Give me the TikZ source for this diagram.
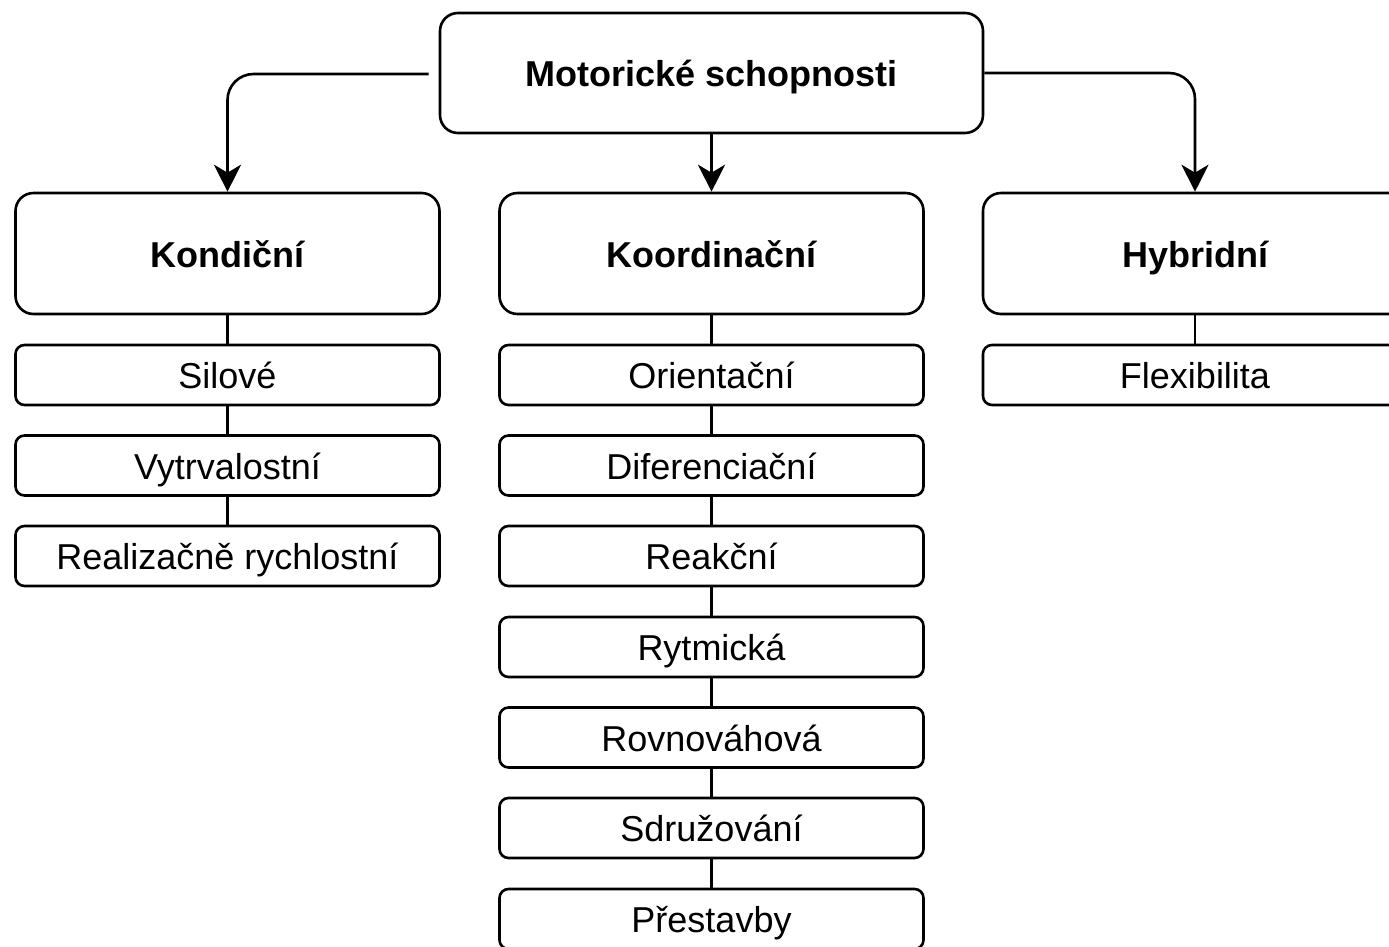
\documentclass[tikz,border=0pt]{standalone}
\usepackage{fontspec}
\setmainfont{Liberation Sans}
\usetikzlibrary{arrows.meta}
\begin{document}
\begin{tikzpicture}[x=1pt,y=-1pt,
  box/.style={draw=black,line width=2.6pt,rounded corners=18pt,inner sep=0pt,align=center,
    minimum height=121pt,text height=30pt,text depth=3pt,font=\fontsize{36}{42}\selectfont\bfseries},
  item/.style={draw=black,line width=2.6pt,rounded corners=9pt,inner sep=0pt,align=center,
    minimum width=424pt,minimum height=60pt,text height=30pt,text depth=3pt,font=\fontsize{36}{42}\selectfont},
  arr/.style={line width=2.6pt,rounded corners=26pt,-{Stealth[length=27pt,width=27pt,inset=8pt]}},
  link/.style={line width=2.6pt}]
\useasboundingbox (0,0) rectangle (1389,946);
\clip (0,0) rectangle (1389,946);
\node[box,minimum width=543pt,minimum height=120pt] (top) at (711.5,73) {Motorické schopnosti};
\node[box,minimum width=424pt] (k) at (227.5,253.5) {Kondiční};
\node[box,minimum width=424pt] (c) at (711.5,253.5) {Koordinační};
\node[box,minimum width=424pt] (h) at (1195,253.5) {Hybridní};
% Kondicni items
\node[item] (k1) at (227.5,375) {Silové};
\node[item] (k2) at (227.5,465.5) {Vytrvalostní};
\node[item] (k3) at (227.5,556) {Realizačně rychlostní};
% Koordinacni items
\node[item] (c1) at (711.5,375) {Orientační};
\node[item] (c2) at (711.5,465.5) {Diferenciační};
\node[item] (c3) at (711.5,556) {Reakční};
\node[item] (c4) at (711.5,647) {Rytmická};
\node[item] (c5) at (711.5,737.5) {Rovnováhová};
\node[item] (c6) at (711.5,828) {Sdružování};
\node[item] (c7) at (711.5,919) {Přestavby};
% Hybridni item
\node[item] (h1) at (1195,375) {Flexibilita};
% arrows
\draw[arr] ([xshift=-10pt,yshift=-1pt]top.west) -| (k.north);
\draw[arr] (top.east) -| (h.north);
\draw[arr] (top.south) -- (c.north);
% links
\draw[link] (k.south) -- (k1.north) (k1.south) -- (k2.north) (k2.south) -- (k3.north);
\draw[link] (c.south) -- (c1.north) (c1.south) -- (c2.north) (c2.south) -- (c3.north)
  (c3.south) -- (c4.north) (c4.south) -- (c5.north) (c5.south) -- (c6.north) (c6.south) -- (c7.north);
\draw[link] (h.south) -- (h1.north);
\end{tikzpicture}
\end{document}
